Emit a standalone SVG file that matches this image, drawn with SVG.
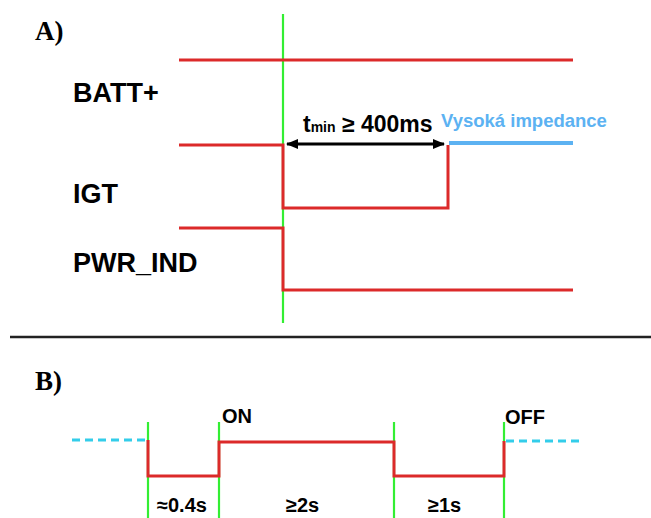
<svg xmlns="http://www.w3.org/2000/svg" width="651" height="518" viewBox="0 0 651 518">
<style>
.sig{fill:none;stroke:#dc2a2a;stroke-width:3;stroke-linejoin:miter}
.grn{stroke:#33ee33;stroke-width:2.2}
.lbl{font-family:"Liberation Sans",Arial,sans-serif;font-weight:bold;fill:#000}
.sec{font-family:"Liberation Serif","Times New Roman",serif;font-weight:bold;font-size:27px;fill:#000}
.cyan{stroke:#33cdea;stroke-width:3;stroke-dasharray:8 5;fill:none}
</style>
<defs>
<marker id="ah" markerWidth="12" markerHeight="10" refX="11" refY="5" orient="auto-start-reverse" markerUnits="userSpaceOnUse">
<path d="M0,0 L12,5 L0,10 Z" fill="#000"/>
</marker>
</defs>
<rect width="651" height="518" fill="#fff"/>
<text class="sec" x="35" y="40">A)</text>
<text class="sec" x="35" y="390">B)</text>
<g id="connectors">
<line class="grn" x1="283" y1="14" x2="283" y2="323"/>
<line x1="287" y1="144" x2="444" y2="144" stroke="#000" stroke-width="3" marker-start="url(#ah)" marker-end="url(#ah)"/>
<line x1="10" y1="337" x2="651" y2="337" stroke="#222" stroke-width="2.5"/>
<line class="grn" x1="148" y1="422" x2="148" y2="518"/>
<line class="grn" x1="219" y1="422" x2="219" y2="518"/>
<line class="grn" x1="394" y1="422" x2="394" y2="518"/>
<line class="grn" x1="504" y1="422" x2="504" y2="518"/>
</g>
<g id="batt">
<line class="sig" x1="179" y1="60" x2="573" y2="60"/>
<text class="lbl" x="73" y="102" font-size="27">BATT+</text>
</g>
<g id="igt">
<polyline class="sig" points="179,145 283,145 283,208 448,208 448,145"/>
<line x1="449" y1="143" x2="573" y2="143" stroke="#5cb2f2" stroke-width="4"/>
<text class="lbl" x="73" y="203" font-size="27">IGT</text>
<text class="lbl" x="303" y="132" font-size="23">t<tspan font-size="14">min</tspan> ≥ 400ms</text>
<text class="lbl" x="441" y="127" font-size="18.5" style="fill:#5cb2f2">Vysoká impedance</text>
</g>
<g id="pwr_ind">
<polyline class="sig" points="179,228 283,228 283,290 573,290"/>
<text class="lbl" x="73" y="272" font-size="27">PWR_IND</text>
</g>
<g id="timing">
<line class="cyan" x1="72" y1="440" x2="148" y2="440"/>
<polyline class="sig" points="148,440 148,476 219,476 219,442 394,442 394,476 504,476 504,441"/>
<line class="cyan" x1="506" y1="441" x2="580" y2="441"/>
<text class="lbl" x="222" y="423" font-size="20">ON</text>
<text class="lbl" x="505" y="424" font-size="20">OFF</text>
<text class="lbl" x="157" y="512" font-size="20">≈0.4s</text>
<text class="lbl" x="286" y="512" font-size="20">≥2s</text>
<text class="lbl" x="428" y="512" font-size="20">≥1s</text>
</g>
</svg>
